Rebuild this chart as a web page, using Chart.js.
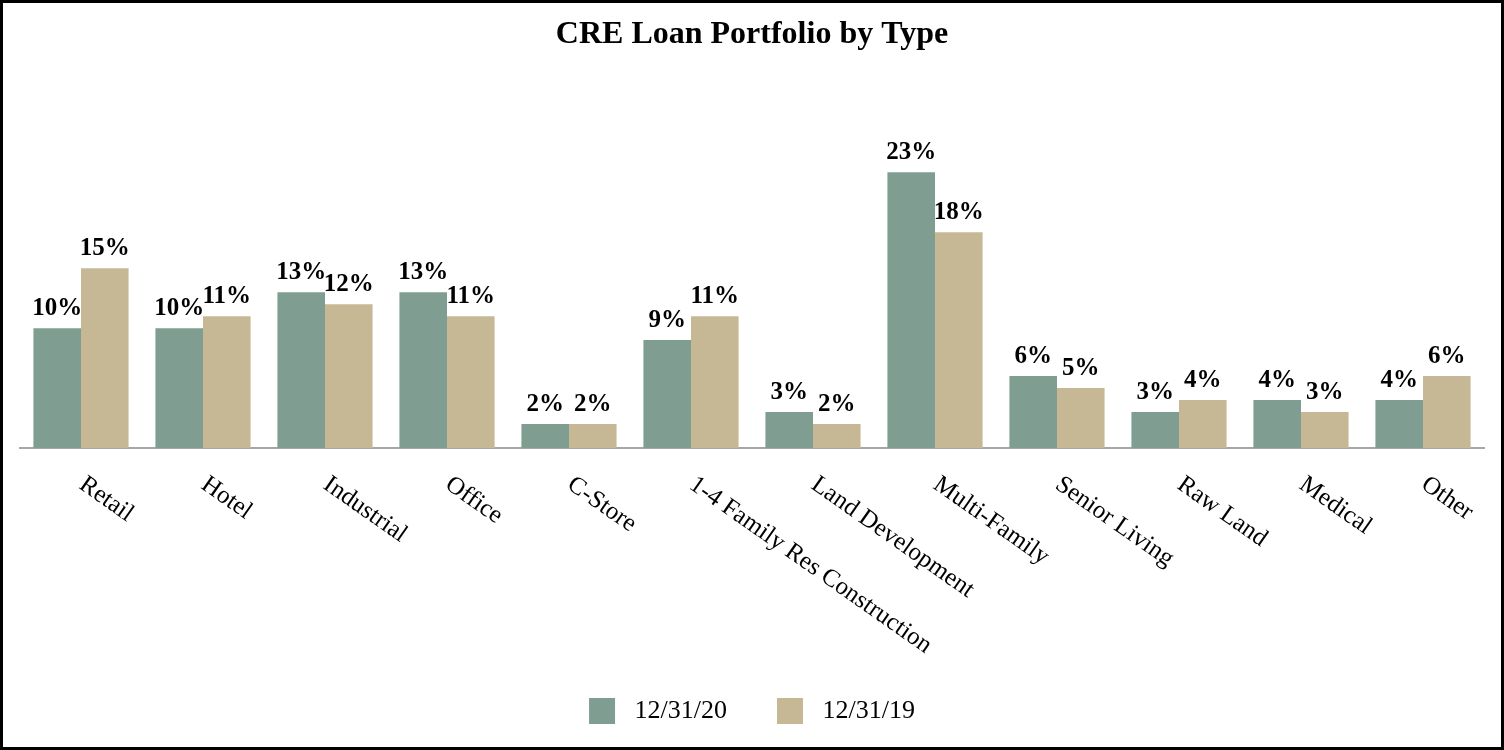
<!DOCTYPE html>
<html>
<head>
<meta charset="utf-8">
<title>CRE Loan Portfolio by Type</title>
<script src="https://cdn.jsdelivr.net/npm/chart.js@4"></script>
<style>
    html, body { margin: 0; padding: 0; background: #fff; }
    #wrap { position: relative; width: 1504px; height: 750px; }
    #frame { position: absolute; left: 0; top: 0; right: 0; bottom: 0; border: 3px solid #000; pointer-events: none; }
</style>
</head>
<body>
<div id="wrap">
    <canvas id="loan-chart" width="1504" height="750"></canvas>
    <div id="frame"></div>
</div>
<script>
var categories = ['Retail', 'Hotel', 'Industrial', 'Office', 'C-Store', '1-4 Family Res Construction',
    'Land Development', 'Multi-Family', 'Senior Living', 'Raw Land', 'Medical', 'Other'];
var values2020 = [10, 10, 13, 13, 2, 9, 3, 23, 6, 3, 4, 4];
var values2019 = [15, 11, 12, 11, 2, 11, 2, 18, 5, 4, 3, 6];
var seriesNames = ['12/31/20', '12/31/19'];

var serif = '"Liberation Serif", "Times New Roman", serif';

// value labels above each bar
var barLabels = {
    id: 'barLabels',
    afterDatasetsDraw: function(chart) {
        var ctx = chart.ctx;
        ctx.save();
        ctx.font = 'bold 25px ' + serif;
        ctx.fillStyle = '#000';
        ctx.textAlign = 'center';
        ctx.textBaseline = 'alphabetic';
        chart.data.datasets.forEach(function(ds, i) {
            chart.getDatasetMeta(i).data.forEach(function(bar, j) {
                ctx.fillText(ds.data[j] + '%', bar.x, bar.y - 13);
            });
        });
        ctx.restore();
    }
};

// slanted category labels running down to the right
var slantLabels = {
    id: 'slantLabels',
    afterDraw: function(chart) {
        var ctx = chart.ctx;
        var xs = chart.scales.x;
        ctx.save();
        ctx.font = '25px ' + serif;
        ctx.fillStyle = '#000';
        ctx.textAlign = 'left';
        ctx.textBaseline = 'top';
        categories.forEach(function(c, i) {
            ctx.save();
            ctx.translate(xs.getPixelForValue(i) + 8, chart.chartArea.bottom + 24);
            ctx.rotate(35 * Math.PI / 180);
            ctx.fillText(c, 0, 0);
            ctx.restore();
        });
        ctx.restore();
    }
};

var chart = new Chart(document.getElementById('loan-chart'), {
    type: 'bar',
    data: {
        labels: categories,
        datasets: [{
            label: seriesNames[0],
            data: values2020,
            backgroundColor: '#809d91',
            borderWidth: 0,
            categoryPercentage: 0.78,
            barPercentage: 1
        },
        {
            label: seriesNames[1],
            data: values2019,
            backgroundColor: '#c6b894',
            borderWidth: 0,
            categoryPercentage: 0.78,
            barPercentage: 1
        }]
    },
    options: {
        responsive: false,
        animation: false,
        layout: {
            padding: { left: 20, right: 20, top: 0, bottom: 16 }
        },
        scales: {
            x: {
                grid: { display: false, drawTicks: false },
                border: { display: true, color: '#a6a6a6', width: 2 },
                ticks: { display: false },
                afterFit: function(s) { s.height = 200; }
            },
            y: {
                display: false,
                min: 0,
                max: 30
            }
        },
        plugins: {
            title: {
                display: true,
                text: 'CRE Loan Portfolio by Type',
                color: '#000',
                font: { family: serif, size: 32, weight: 'bold' },
                padding: { top: 16, bottom: 34 }
            },
            legend: {
                position: 'bottom',
                labels: {
                    color: '#000',
                    font: { family: serif, size: 26 },
                    boxWidth: 26,
                    boxHeight: 26,
                    padding: 50,
                    generateLabels: function(chart) {
                        // leading space widens the gap between swatch and text
                        return Chart.defaults.plugins.legend.labels.generateLabels(chart).map(function(item) {
                            item.text = ' ' + item.text;
                            return item;
                        });
                    }
                }
            },
            tooltip: { enabled: false }
        }
    },
    plugins: [barLabels, slantLabels]
});
</script>
</body>
</html>
